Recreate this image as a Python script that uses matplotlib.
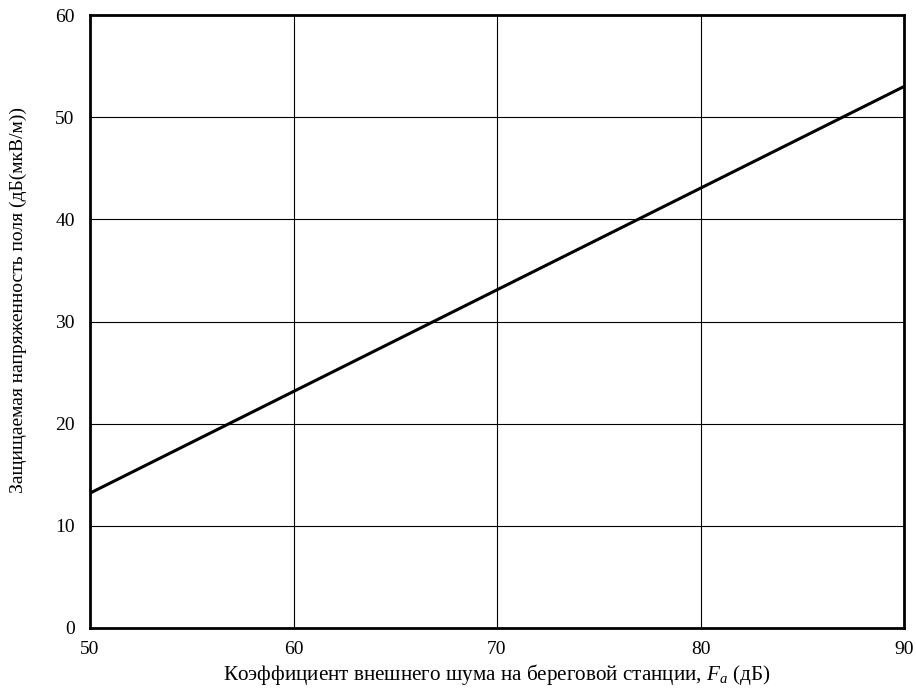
import matplotlib
matplotlib.use("Agg")
import matplotlib.pyplot as plt

# Protected field strength vs. external noise factor at the coast station
noise_factor = [50, 90]          # Fa, dB
field_strength = [13.2, 53.0]    # dB(uV/m)

x_ticks = [50, 60, 70, 80, 90]
y_ticks = [0, 10, 20, 30, 40, 50, 60]

plt.rcParams['font.family'] = ['Liberation Serif', 'DejaVu Serif']
plt.rcParams['mathtext.fontset'] = 'custom'
plt.rcParams['mathtext.rm'] = 'Liberation Serif'
plt.rcParams['mathtext.it'] = 'Liberation Serif:italic'

fig = plt.figure(figsize=(9.16, 6.91), dpi=100)
ax = fig.add_axes([90 / 916, 63 / 691, 814 / 916, 613 / 691])

ax.plot(noise_factor, field_strength, color='black', linewidth=2.2, solid_capstyle='butt')

ax.set_xlim(50, 90)
ax.set_ylim(0, 60)
ax.set_xticks(x_ticks)
ax.set_yticks(y_ticks)
ax.grid(True, color='black', linewidth=0.8)
ax.set_axisbelow(True)
ax.tick_params(axis='y', length=0, labelsize=14, pad=11)
ax.tick_params(axis='x', length=0, labelsize=14, pad=9)

for s in ax.spines.values():
    s.set_linewidth(2)
    s.set_color('black')

ax.set_xlabel(r'Коэффициент внешнего шума на береговой станции, $F_a$ (дБ)', fontsize=15.2)
ax.set_ylabel('Защищаемая напряженность поля (дБ(мкВ/м))', fontsize=14, va='center')
ax.xaxis.set_label_coords(0.5, -0.056)
ax.yaxis.set_label_coords(-0.088, 0.535)

fig.savefig('out.png', dpi=100)
